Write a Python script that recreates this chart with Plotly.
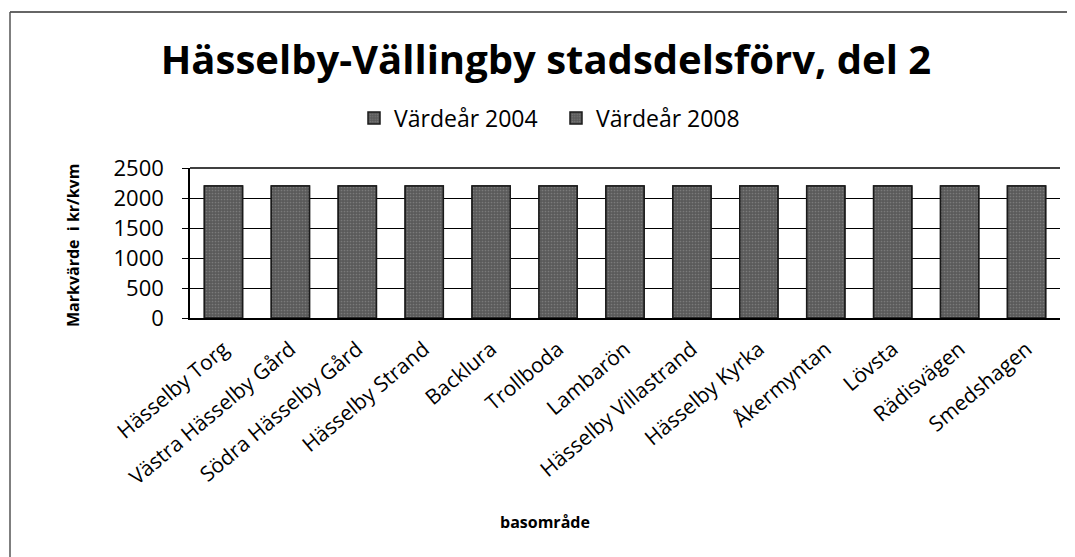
import plotly.graph_objects as go

categories = ["Hässelby Torg", "Västra Hässelby Gård", "Södra Hässelby Gård", "Hässelby Strand",
              "Backlura", "Trollboda", "Lambarön", "Hässelby Villastrand", "Hässelby Kyrka",
              "Åkermyntan", "Lövsta", "Rädisvägen", "Smedshagen"]
values_2004 = [2200, 2200, 2200, 2200, 2200, 2200, 2200, 2200, 2200, 2200, 2200, 2200, 2200]
values_2008 = [2200, 2200, 2200, 2200, 2200, 2200, 2200, 2200, 2200, 2200, 2200, 2200, 2200]
series_names = ["Värdeår 2004", "Värdeår 2008"]
y_ticks = [0, 500, 1000, 1500, 2000, 2500]

FONT = "Open Sans"
OFF = 8  # page body margin
W, H = 1075, 557
bar_style = dict(color="#5a5a5a", line=dict(color="#1a1a1a", width=1.5),
                 pattern=dict(shape=".", fgcolor="#9a9a9a", size=3, solidity=0.25))

fig = go.Figure()
for name, vals in zip(series_names, [values_2004, values_2008]):
    fig.add_trace(go.Bar(x=categories, y=vals, name=name, marker=bar_style))

# desired page-pixel plot box: x 190..1060, y 168..318
L = 190 - OFF
T = 168 - OFF
R = W - (1060 - OFF)
B = H - (318 - OFF)
pw = 1060 - 190
ph = 318 - 168

def px(x):
    return (x - 190) / pw

def py(y):
    return (318 - y) / ph

fig.update_layout(
    width=W, height=H,
    margin=dict(l=L, r=R, t=T, b=B),
    paper_bgcolor="white", plot_bgcolor="white",
    barmode="overlay", bargap=0.43,
    font=dict(family=FONT, color="black", size=18),
    title=dict(text="<b>Hässelby-Vällingby stadsdelsförv, del 2</b>",
               font=dict(family=FONT, size=40, color="black"),
               x=(546 - OFF) / W, xanchor="center", xref="container",
               y=1 - (60 - OFF) / H, yanchor="middle", yref="container"),
    legend=dict(orientation="h", x=px(556), xanchor="center",
                y=py(118), yanchor="middle", entrywidth=157, entrywidthmode="pixels",
                font=dict(family=FONT, size=23), itemwidth=30, bgcolor="rgba(0,0,0,0)"),
    showlegend=True,
    xaxis=dict(tickangle=-40, tickfont=dict(family=FONT, size=21), showline=True,
               linecolor="black", linewidth=1.5, showgrid=False, ticks="outside",
               ticklen=9, tickcolor="rgba(0,0,0,0)", automargin=False),
    yaxis=dict(range=[0, 2500], tickvals=y_ticks, tickfont=dict(family=FONT, size=22),
               showline=True, linecolor="black", linewidth=1.5, ticks="outside", ticklen=6,
               tickcolor="black", showgrid=True, gridcolor="black", gridwidth=1,
               ticklabelstandoff=14, automargin=False, zeroline=False),
    annotations=[
        dict(text="<b>Markvärde  i kr/kvm</b>", xref="paper", yref="paper",
             x=px(73), y=py(246), textangle=-90, showarrow=False,
             xanchor="center", yanchor="middle", font=dict(family=FONT, size=16)),
        dict(text="<b>basområde</b>", xref="paper", yref="paper",
             x=px(545), y=py(522), showarrow=False,
             xanchor="center", yanchor="middle", font=dict(family=FONT, size=16)),
    ],
    shapes=[
        dict(type="line", xref="paper", yref="paper", x0=px(10), x1=1.1,
             y0=py(12), y1=py(12), line=dict(color="#333", width=1.5)),
        dict(type="line", xref="paper", yref="paper", x0=px(10), x1=px(10),
             y0=py(12), y1=-2.0, line=dict(color="#555", width=1.5)),
        dict(type="line", xref="paper", yref="paper", x0=0, x1=1,
             y0=1, y1=1, line=dict(color="black", width=1.5)),
    ],
)

fig.write_html("out.html")
